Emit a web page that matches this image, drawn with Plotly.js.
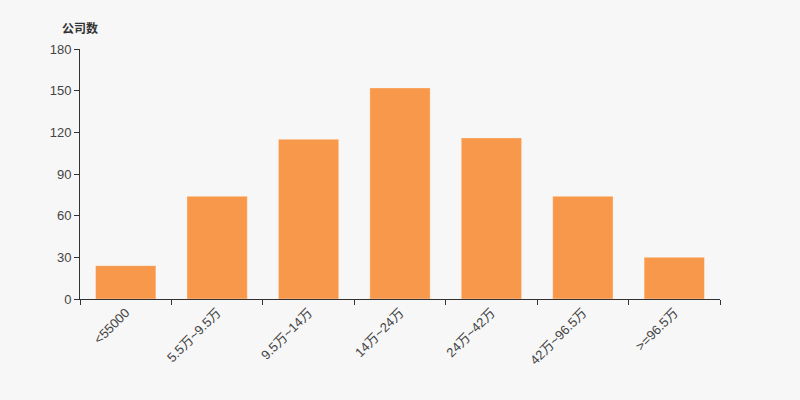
<!DOCTYPE html>
<html>
<head>
<meta charset="utf-8">
<script src="https://cdn.plot.ly/plotly-3.0.1.min.js"></script>
<style>html,body{margin:0;padding:0;background:#f7f7f7;}#chart{width:800px;height:400px;}</style>
</head>
<body>
<div id="chart"></div>
<script>
var categories = ["<55000", "5.5万~9.5万", "9.5万~14万", "14万~24万", "24万~42万", "42万~96.5万", ">=96.5万"];
var companyCounts = [24, 74, 115, 152, 116, 74, 30];
var yTickValues = [0, 30, 60, 90, 120, 150, 180];
var yTitle = "公司数";

var fontFamily = "Liberation Sans, Arial, Noto Sans CJK SC, sans-serif";

var trace = {
  type: "bar",
  x: categories,
  y: companyCounts,
  marker: {color: "#f7984a", line: {color: "rgba(255,255,255,0.35)", width: 1}},
  hoverinfo: "x+y"
};

var layout = {
  width: 800,
  height: 400,
  paper_bgcolor: "#f7f7f7",
  plot_bgcolor: "#f7f7f7",
  margin: {l: 80, r: 80, t: 49, b: 101},
  bargap: 0.34,
  showlegend: false,
  font: {family: fontFamily, size: 12, color: "#333"},
  xaxis: {
    type: "category",
    showline: true,
    linecolor: "#333",
    linewidth: 1,
    ticks: "outside",
    tickson: "boundaries",
    ticklen: 5,
    tickcolor: "#333",
    tickangle: -45,
    showgrid: false,
    zeroline: false,
    tickfont: {family: fontFamily, size: 13, color: "#444"}
  },
  yaxis: {
    range: [0, 180],
    tickvals: yTickValues,
    showline: true,
    linecolor: "#333",
    linewidth: 1,
    ticks: "outside",
    ticklen: 5,
    tickcolor: "#333",
    showgrid: false,
    zeroline: false,
    tickfont: {family: fontFamily, size: 13, color: "#444"}
  },
  annotations: [{
    text: "<b>" + yTitle + "</b>",
    xref: "paper", yref: "paper",
    x: 0, y: 1,
    xanchor: "center", yanchor: "bottom",
    yshift: 11,
    showarrow: false,
    font: {family: "Noto Sans CJK SC, sans-serif", size: 12, color: "#333"}
  }]
};

Plotly.newPlot("chart", [trace], layout, {displayModeBar: false, staticPlot: true});
</script>
</body>
</html>
